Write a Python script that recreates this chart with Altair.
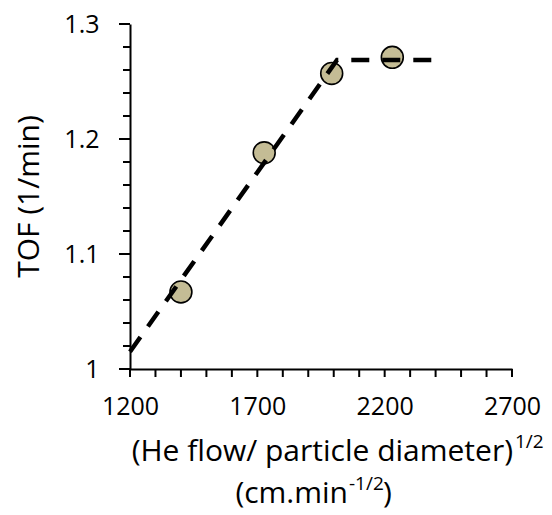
import altair as alt
import pandas as pd

# data
flow = [1400, 1727, 1992, 2230]
tof = [1.067, 1.188, 1.257, 1.271]
fit_x = [1200, 2013, 2395]
fit_y = [1.015, 1.2687, 1.2687]

x_ticks = list(range(1200, 2800, 100))
y_major = [1.0, 1.1, 1.2, 1.3]
y_minor = [round(1.0 + 0.02 * i, 2) for i in range(16)]

FONT = "Open Sans"
pts = pd.DataFrame({"x": flow, "y": tof})
fit = pd.DataFrame({"x": fit_x, "y": fit_y, "o": list(range(len(fit_x)))})
xt = pd.DataFrame({"x": x_ticks})
ymaj = pd.DataFrame({"y": y_major})
ymin = pd.DataFrame({"y": y_minor})

xscale = alt.Scale(domain=[1200, 2700], nice=False, zero=False)
yscale = alt.Scale(domain=[1.0, 1.3], nice=False, zero=False)

xaxis = alt.Axis(values=[1200, 1700, 2200, 2700], title=None, grid=False,
                 ticks=False, tickSize=0,
                 domainColor="black", domainWidth=2,
                 labelFont=FONT, labelFontSize=25, labelColor="black",
                 labelPadding=25, labelOverlap=False, labelFlush=False, labelBound=False,
                 format="d")

yaxis = alt.Axis(values=y_major, orient="left", grid=False, ticks=False, tickSize=0,
                 domainColor="black", domainWidth=2,
                 labelExpr="datum.value == 1 ? '1' : format(datum.value, '.1f')",
                 labelFont=FONT, labelFontSize=25, labelColor="black",
                 labelPadding=31, labelOverlap=False, labelFlush=False, labelBound=False,
                 title="TOF (1/min)", titleFont=FONT, titleFontSize=30,
                 titleFontWeight="normal", titleColor="black", titleAngle=-90,
                 titleX=-101, titleY=172, titleAlign="center", titleBaseline="middle")

X = lambda: alt.X("x:Q", scale=xscale, axis=xaxis)
Y = lambda: alt.Y("y:Q", scale=yscale, axis=yaxis)

points = alt.Chart(pts).mark_point(
    shape="circle", filled=True, size=480, fill="#C4BC95", stroke="black",
    strokeWidth=1.6, opacity=1
).encode(x=X(), y=Y())

line = alt.Chart(fit).mark_line(
    color="black", strokeWidth=4.5, strokeDash=[18, 13], strokeCap="butt"
).encode(x=X(), y=Y(), order="o:Q")

# axis tick marks (outward)
xticks = alt.Chart(xt).mark_rule(color="black", strokeWidth=2, strokeOpacity=1).encode(
    x=X(), y=alt.value(345), y2=alt.value(353))
ymajor = alt.Chart(ymaj).mark_rule(color="black", strokeWidth=2, strokeOpacity=1).encode(
    y=Y(), x=alt.value(-11), x2=alt.value(0))
yminor = alt.Chart(ymin).mark_rule(color="black", strokeWidth=2, strokeOpacity=1).encode(
    y=Y(), x=alt.value(-7), x2=alt.value(0))

one = pd.DataFrame({"a": [0]})

def txt(s, x, y, size, align):
    return alt.Chart(one).mark_text(
        text=s, font=FONT, fontSize=size, color="black", align=align, baseline="middle"
    ).encode(x=alt.value(x), y=alt.value(y))

t1 = txt("(He flow/  particle diameter)", 383, 428, 30, "right")
t1s = txt("1/2", 385, 418, 19, "left")
t2 = txt("(cm.min", 218, 470, 30, "right")
t2s = txt("-1/2", 219, 460, 19, "left")
t2e = txt(")", 253, 470, 30, "left")

chart = alt.layer(points, line, xticks, ymajor, yminor, t1, t1s, t2, t2s, t2e).properties(
    width=382, height=345,
    autosize=alt.AutoSizeParams(type="none"),
    padding={"left": 130, "top": 24, "right": 40, "bottom": 146},
).configure_view(strokeWidth=0)

chart.save("out.html", embed_options={"renderer": "svg", "actions": False})
